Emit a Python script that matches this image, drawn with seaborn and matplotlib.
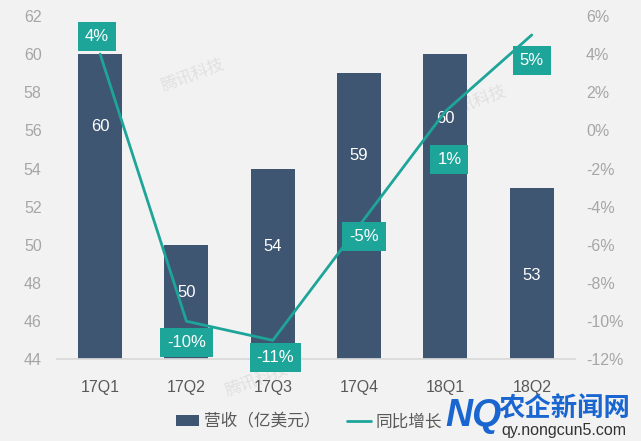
import numpy as np
import pandas as pd
import matplotlib
matplotlib.use("Agg")
import matplotlib.pyplot as plt
import seaborn as sns
from matplotlib.patches import Patch
from matplotlib.lines import Line2D

quarters = ["17Q1", "17Q2", "17Q3", "17Q4", "18Q1", "18Q2"]
revenue = [60, 50, 54, 59, 60, 53]
growth = [4, -10, -11, -5, 1, 5]
left_ticks = list(range(44, 63, 2))
right_ticks = list(range(-12, 7, 2))

# label placement (layout only)
rev_label_y = [56.2, 47.5, 49.9, 54.7, 56.6, 48.4]
gr_label_y = [4.9, -11.1, -11.9, -5.57, -1.54, 3.64]
gr_label_dx = [-0.035, 0.0, 0.03, 0.06, 0.045, 0.0]

sns.set_theme(style="white")
plt.rcParams["font.family"] = ["Liberation Sans", "Noto Sans CJK SC", "DejaVu Sans"]

BG = "#f2f2f2"
BAR = "#3e5672"
TEAL = "#1ea59a"

fig = plt.figure(figsize=(6.41, 4.41), dpi=100, facecolor=BG)
ax = fig.add_axes([0.0889, 0.185, 0.808, 0.779], facecolor=BG)

# faint watermark (behind bars)
for (x, y) in [(0.30, 0.83), (0.74, 0.77), (0.40, 0.14)]:
    ax.text(x, y, "腾讯科技", color="#e0e0e0", fontsize=12, rotation=20,
            ha="center", va="center", zorder=0.5, transform=fig.transFigure)

df = pd.DataFrame({"q": quarters, "rev": revenue, "g": growth})
sns.barplot(data=df, x="q", y="rev", color=BAR, width=0.51, saturation=1,
            linewidth=0, edgecolor="none", ax=ax, zorder=2)
ax.set_ylim(44, 62)
ax.set_xlim(-0.5, 5.5)
ax.set_yticks(left_ticks)
ax.set_xlabel("")
ax.set_ylabel("")
for s in ["top", "right", "left"]:
    ax.spines[s].set_visible(False)
ax.spines["bottom"].set_color("#d9d9d9")
ax.tick_params(axis="y", colors="#a6a6a6", labelsize=11.5, length=0, pad=11)
ax.tick_params(axis="x", colors="#595959", labelsize=11.5, length=0, pad=15)

for i, (v, ly) in enumerate(zip(revenue, rev_label_y)):
    ax.text(i, ly, f"{v}", color="white", ha="center", va="center", fontsize=12, zorder=3)

ax2 = ax.twinx()
sns.lineplot(x=np.arange(len(quarters)), y=growth, color=TEAL, linewidth=2, ax=ax2)
ax2.set_ylim(-12, 6)
ax2.set_xlim(-0.5, 5.5)
ax2.set_yticks(right_ticks)
ax2.set_yticklabels([f"{t}%" for t in right_ticks])
for s in ["top", "right", "left", "bottom"]:
    ax2.spines[s].set_visible(False)
ax2.tick_params(axis="y", colors="#a6a6a6", labelsize=11.5, length=0, pad=8)

for i, (g, ly, dx) in enumerate(zip(growth, gr_label_y, gr_label_dx)):
    ax2.text(i + dx, ly, f"{g}%", color="white", ha="center", va="center", fontsize=12,
             bbox=dict(boxstyle="square,pad=0.42", facecolor=TEAL, edgecolor="none"))

handles = [Patch(facecolor=BAR, edgecolor="none"),
           Line2D([0], [0], color=TEAL, linewidth=2)]
fig.legend(handles, ["营收（亿美元）", "同比增长"], loc="center", bbox_to_anchor=(0.482, 0.045),
           ncol=2, frameon=False, fontsize=12, labelcolor="#595959",
           handlelength=1.4, handleheight=0.6, columnspacing=1.6, handletextpad=0.3)

# site logo overlay
fig.text(0.738, 0.056, "NQ", color="#1a66d0", fontsize=27, fontweight="bold",
         fontstyle="italic", ha="center", va="center", zorder=10)
fig.text(0.881, 0.074, "农企新闻网", color="#1a66d0", fontsize=19, fontweight="bold",
         ha="center", va="center", zorder=10)
fig.text(0.879, 0.024, "qy.nongcun5.com", color="#333333", fontsize=11.5,
         ha="center", va="center", zorder=10)

fig.savefig("out.png", dpi=100, facecolor=BG)
